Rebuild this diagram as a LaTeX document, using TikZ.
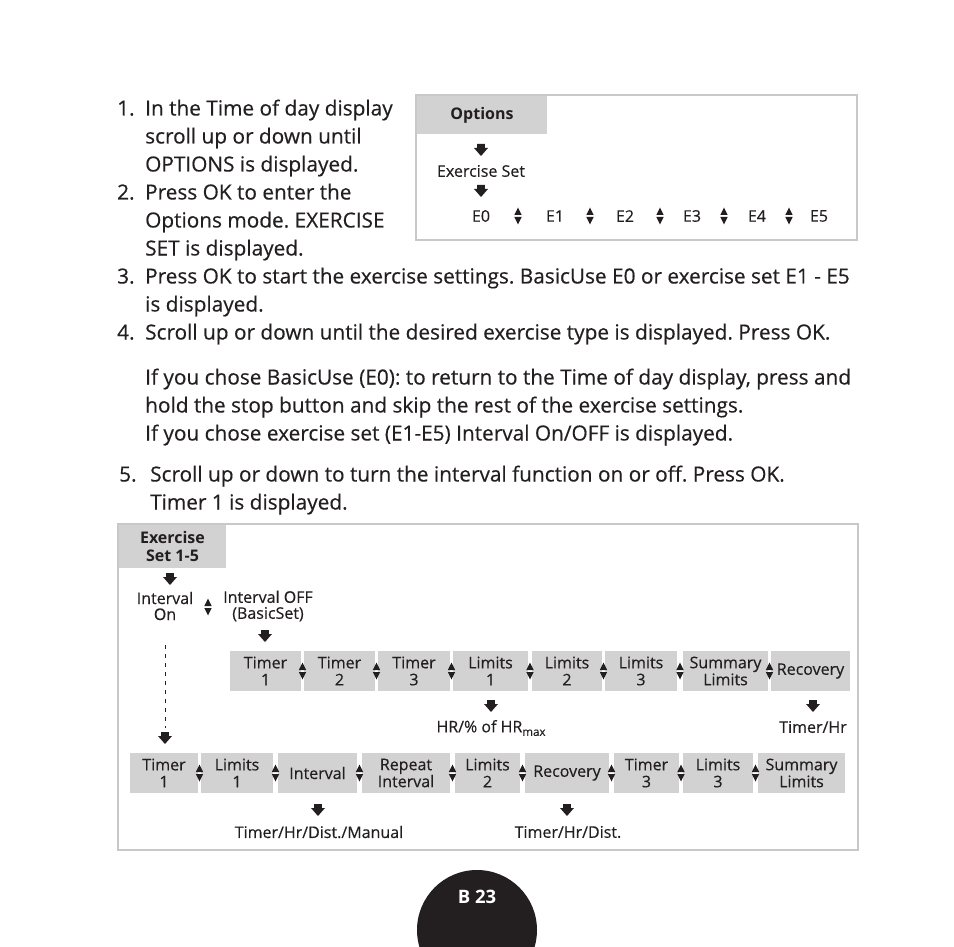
\documentclass[tikz,border=0pt]{standalone}
\usepackage{fontspec}
\setmainfont{Open Sans}[UprightFeatures={FakeBold=0.4}]
\definecolor{ink}{HTML}{231F20}
\definecolor{cellgray}{HTML}{D2D2D2}
\definecolor{framegray}{HTML}{C8C8C8}
\tikzset{
  darr/.pic={\fill[ink] (-3.8,-6) -- (3.8,-6) -- (3.8,-2) -- (7,-2) -- (0,6) -- (-7,-2) -- (-3.8,-2) -- cycle;},
  udarr/.pic={\fill[ink] (-3.7,-1) -- (3.7,-1) -- (0,-8.5) -- cycle; \fill[ink] (-3.7,1) -- (3.7,1) -- (0,8.5) -- cycle;},
  body/.style={anchor=base west, inner sep=0pt, text=ink, font=\fontsize{20.8}{28}\selectfont},
  small/.style={inner sep=0pt, text=ink, align=center, font=\fontsize{16}{16}\selectfont},
  header/.style={fill=cellgray, inner sep=0pt, text=ink, align=center, font=\bfseries\fontsize{16}{18}\selectfont},
  frame/.style={draw=framegray, line width=2pt},
  cell/.style={fill=cellgray, inner sep=0pt, text=ink, align=center, minimum height=40pt, font=\fontsize{16}{17}\selectfont},
}
\frenchspacing
\begin{document}
\frenchspacing
\begin{tikzpicture}[x=1pt,y=-1pt]
\useasboundingbox (0,0) rectangle (954,947);
% ---------- body text ----------
\node[body] (n1) at (117,115.5) {1.};
\node[body] (t1a) at (145,115.5) {In the Time of day display};
\node[body] (t1b) at (145,143.5) {scroll up or down until};
\node[body] (t1c) at (145,171.5) {OPTIONS is displayed.};
\node[body] (n2) at (117,199.5) {2.};
\node[body] (t2a) at (145,199.5) {Press OK to enter the};
\node[body] (t2b) at (145,227.5) {Options mode. EXERCISE};
\node[body] (t2c) at (145,255.5) {SET is displayed.};
\node[body] (n3) at (117,283.5) {3.};
\node[body] (t3a) at (145,283.5) {Press OK to start the exercise settings. BasicUse E0 or exercise set E1 - E5};
\node[body] (t3b) at (145,311.5) {is displayed.};
\node[body] (n4) at (117,339.5) {4.};
\node[body] (t4a) at (145,339.5) {Scroll up or down until the desired exercise type is displayed. Press OK.};
\node[body] (t4b) at (145,384.5) {If you chose BasicUse (E0): to return to the Time of day display, press and};
\node[body] (t4c) at (145,412.5) {hold the stop button and skip the rest of the exercise settings.};
\node[body] (t4d) at (145,440.5) {If you chose exercise set (E1-E5) Interval On/OFF is displayed.};
\node[body] (n5) at (119,481.5) {5.};
\node[body] (t5a) at (150,481.5) {Scroll up or down to turn the interval function on or off. Press OK.};
\node[body] (t5b) at (150,509.5) {Timer 1 is displayed.};
% ---------- top box ----------
\draw[frame] (416,95) rectangle (857,240);
\node[header, minimum width=130pt, minimum height=38pt] (opt) at (482,115) {Options};
\pic at (481,150) {darr};
\node[small] (es) at (481,171) {Exercise Set};
\pic at (481,191) {darr};
\node[small] (e0) at (481,216) {E0};
\node[small] (e1) at (555,216) {E1};
\node[small] (e2) at (625,216) {E2};
\node[small] (e3) at (692,216) {E3};
\node[small] (e4) at (757,216) {E4};
\node[small] (e5) at (819,216) {E5};
\foreach \x in {518,590,660,724,789} \pic at (\x,216) {udarr};
% ---------- lower box ----------
\draw[frame] (118,524) rectangle (858,850);
\node[header, minimum width=107pt, minimum height=43pt] (exs) at (172.5,546.5) {Exercise\\Set 1-5};
\pic at (170,579) {darr};
\node[small] (ion) at (165,606) {Interval\\On};
\pic at (208,607) {udarr};
\node[small] (ioff) at (268,606) {Interval OFF\\(BasicSet)};
\pic at (265,636) {darr};
\coordinate (dsA) at (165,645);
\coordinate (dsB) at (165,728);
\draw[ink, line width=1pt, dash pattern=on 4pt off 5pt] (dsA) -- (dsB);
\pic at (165,738) {darr};
% row 1
\node[cell, minimum width=71pt] (ra1) at (265.5,671) {Timer\\1};
\node[cell, minimum width=71pt] (ra2) at (339.5,671) {Timer\\2};
\node[cell, minimum width=72pt] (ra3) at (414,671) {Timer\\3};
\node[cell, minimum width=75pt] (ra4) at (490.5,671) {Limits\\1};
\node[cell, minimum width=70pt] (ra5) at (567,671) {Limits\\2};
\node[cell, minimum width=72pt] (ra6) at (641,671) {Limits\\3};
\node[cell, minimum width=85pt] (ra7) at (725.5,671) {Summary\\Limits};
\node[cell, minimum width=79pt] (ra8) at (810.5,671) {Recovery};
\foreach \x in {302.5,376.5,451.5,530,603.5,680,769.5} \pic at (\x,671) {udarr};
\pic at (491,706) {darr};
\node[small] (hr) at (491,728) {HR/\% of HR\raisebox{-3.5pt}{\fontsize{11.5}{10}\selectfont max}};
\pic at (813,706) {darr};
\node[small] (th) at (813,727) {Timer/Hr};
% row 2
\node[cell, minimum width=68pt] (rb1) at (164,773) {Timer\\1};
\node[cell, minimum width=72pt] (rb2) at (237,773) {Limits\\1};
\node[cell, minimum width=79pt] (rb3) at (317.5,773) {Interval};
\node[cell, minimum width=88pt] (rb4) at (406,773) {Repeat\\Interval};
\node[cell, minimum width=65pt] (rb5) at (487.5,773) {Limits\\2};
\node[cell, minimum width=84pt] (rb6) at (567,773) {Recovery};
\node[cell, minimum width=65pt] (rb7) at (646.5,773) {Timer\\3};
\node[cell, minimum width=70pt] (rb8) at (718,773) {Limits\\3};
\node[cell, minimum width=87pt] (rb9) at (801.5,773) {Summary\\Limits};
\foreach \x in {199.5,275.5,359.5,452.5,522.5,611.5,681,755.5} \pic at (\x,773) {udarr};
\pic at (318,810) {darr};
\node[small] (thdm) at (319,832) {Timer/Hr/Dist./Manual};
\pic at (567,810) {darr};
\node[small] (thd) at (568,832) {Timer/Hr/Dist.};
% ---------- page tab ----------
\begin{scope}
\clip (0,0) rectangle (954,947);
\fill[ink] (477,930) circle (60);
\end{scope}
\node[inner sep=0pt, text=white, font=\bfseries\fontsize{18.5}{20}\selectfont] (pg) at (477,897) {B 23};
\end{tikzpicture}
\end{document}
